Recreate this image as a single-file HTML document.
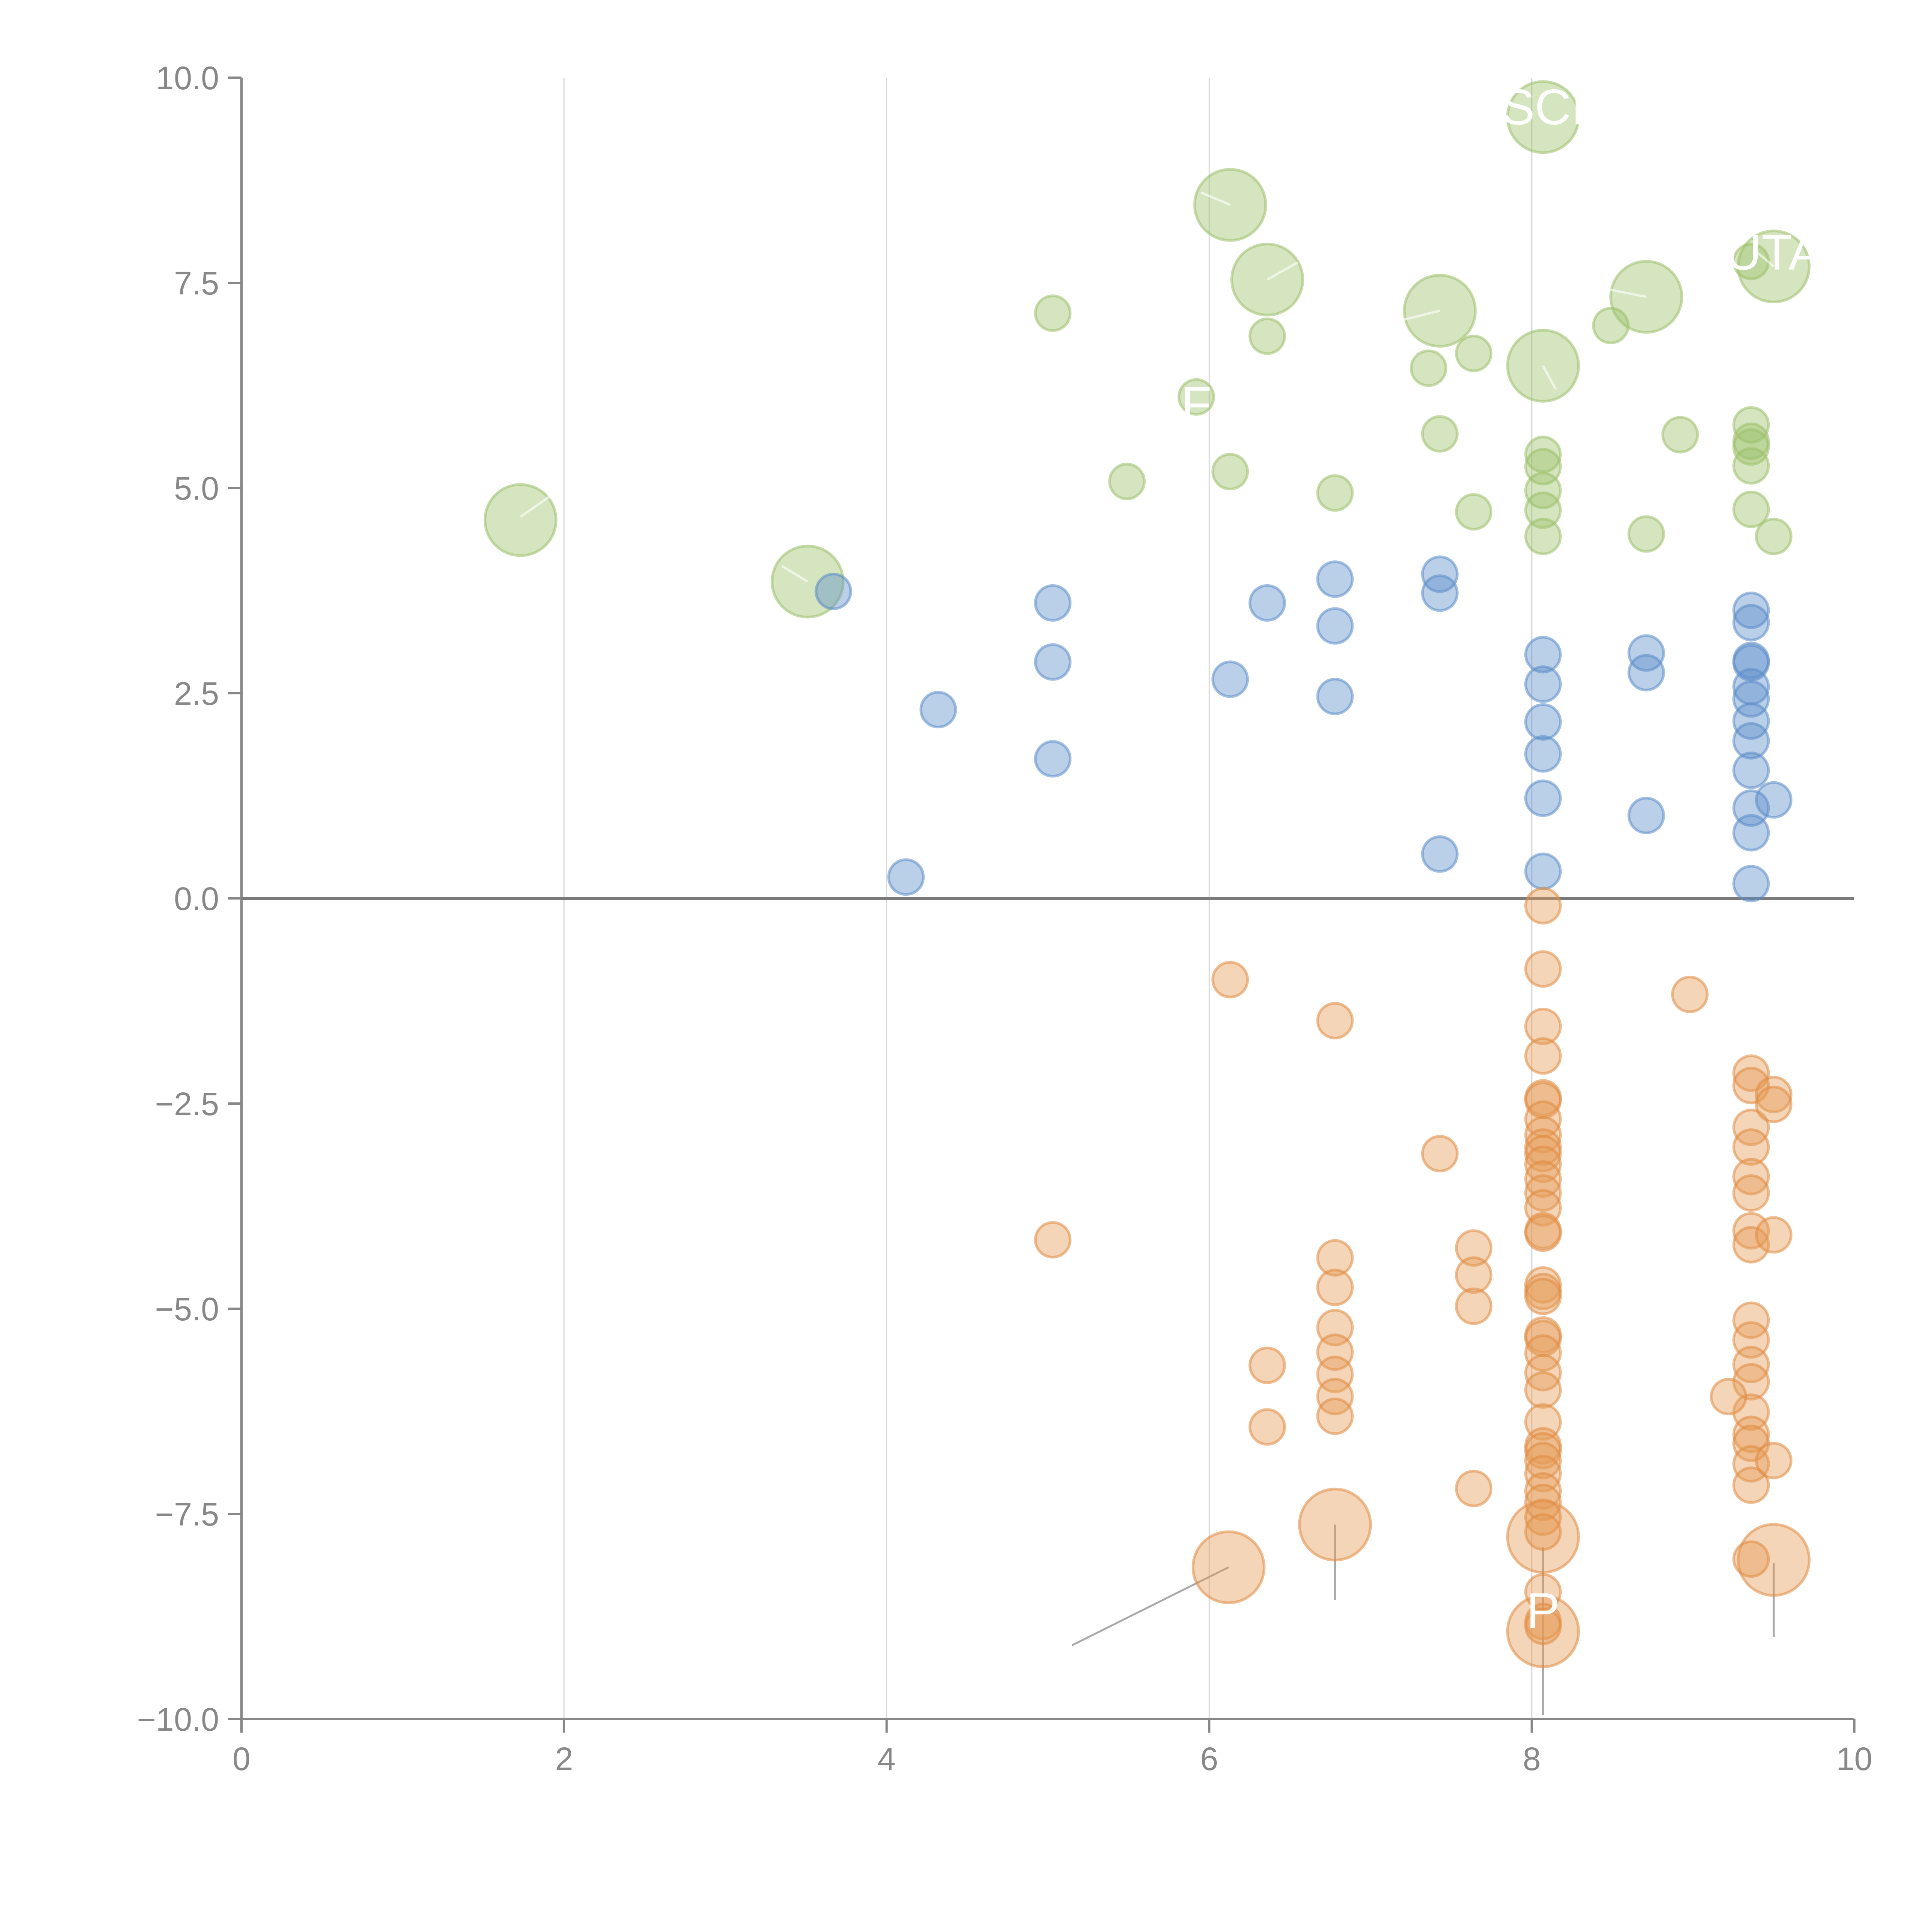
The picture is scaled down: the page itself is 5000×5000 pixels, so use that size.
<!DOCTYPE html>
<html><head><meta charset="utf-8"><style>html,body{margin:0;padding:0;background:#fff}svg{display:block}</style></head>
<body>
<svg id="chart" width="5000" height="5000" viewBox="0 0 5000 5000" xmlns="http://www.w3.org/2000/svg" font-family="Liberation Sans, Arial, sans-serif"></svg>
<script>
const xTicks=[0,2,4,6,8,10];
const yTicks=[10,7.5,5,2.5,0,-2.5,-5,-7.5,-10];
const yTickLabels=["10.0","7.5","5.0","2.5","0.0","\u22122.5","\u22125.0","\u22127.5","\u221210.0"];
const greenX=[1.73,3.51,6.13,6.36,7.43,8.07,8.07,8.71,9.50,5.03,6.36,5.92,6.13,5.49,6.78,7.36,7.64,7.43,7.64,8.07,8.07,8.07,8.07,8.07,8.49,8.71,8.92,9.36,9.36,9.36,9.36,9.36,9.50,9.36];
const greenY=[4.61,3.86,8.45,7.54,7.16,9.52,6.49,7.33,7.70,7.13,6.85,6.11,5.2,5.08,4.94,6.46,6.64,5.66,4.71,5.41,5.26,4.97,4.73,4.41,6.98,4.44,5.65,5.77,5.57,5.50,5.27,4.74,4.41,7.76];
const greenS=[2,2,2,2,2,2,2,2,2,1,1,1,1,1,1,1,1,1,1,1,1,1,1,1,1,1,1,1,1,1,1,1,1,1];
const blueX=[3.67,4.32,4.12,5.03,5.03,5.03,6.13,6.36,6.78,6.78,6.78,7.43,7.43,7.43,8.07,8.07,8.07,8.07,8.07,8.07,8.71,8.71,8.71,9.36,9.36,9.36,9.36,9.36,9.36,9.36,9.36,9.36,9.36,9.36,9.36,9.50];
const blueY=[3.74,2.30,0.26,3.60,2.88,1.70,2.67,3.60,3.89,3.32,2.46,3.95,3.72,0.54,2.97,2.61,2.15,1.76,1.22,0.33,2.99,2.75,1.01,3.51,3.36,2.90,2.87,2.58,2.43,2.16,1.92,1.56,1.10,0.80,0.18,1.20];
const orangeX=[6.12,6.78,8.07,8.07,9.50,6.13,6.78,8.98,5.03,7.43,6.36,6.36,6.78,6.78,6.78,6.78,6.78,6.78,6.78,7.64,7.64,7.64,7.64,
8.07,8.07,8.07,8.07,8.07,8.07,8.07,8.07,8.07,8.07,8.07,8.07,8.07,8.07,8.07,8.07,8.07,8.07,8.07,8.07,8.07,8.07,8.07,8.07,8.07,8.07,8.07,8.07,8.07,8.07,8.07,8.07,8.07,8.07,8.07,8.07,
9.36,9.36,9.36,9.36,9.36,9.36,9.36,9.36,9.36,9.36,9.36,9.36,9.36,9.36,9.36,9.36,9.36,9.36,9.50,9.50,9.50,9.50,9.22];
const orangeY=[-8.15,-7.63,-7.78,-8.93,-8.06,-0.99,-1.49,-1.17,-4.16,-3.11,-5.69,-6.44,-4.38,-4.74,-5.23,-5.53,-5.80,-6.07,-6.31,-4.26,-4.59,-4.97,-7.19,
-0.09,-0.86,-1.56,-1.92,-2.43,-2.46,-2.69,-2.88,-3.03,-3.11,-3.24,-3.42,-3.59,-3.77,-4.05,-4.08,-4.71,-4.79,-4.85,-5.32,-5.36,-5.54,-5.78,-5.99,-6.38,-6.67,-6.73,-6.85,-7.01,-7.22,-7.36,-7.54,-7.72,-8.45,-8.81,-8.87,
-2.13,-2.28,-2.79,-3.03,-3.39,-3.59,-4.05,-4.22,-5.14,-5.38,-5.68,-5.89,-6.26,-6.53,-6.64,-6.89,-7.15,-8.05,-2.39,-2.51,-4.10,-6.85,-6.07];
const orangeS=[2,2,2,2,2];
const labelText=["SCI","UTA","F","P"];
const labelX=[8.07,9.50,5.92,8.07];
const labelY=[9.62,7.85,6.0,-8.7];

const X0=625,X1=4799,Y0=201,Y1=4449;
const sx=v=>X0+(v-0)/(10-0)*(X1-X0);
const sy=v=>Y0+(10-v)/20*(Y1-Y0);
const svg=document.getElementById('chart');
const NS="http://www.w3.org/2000/svg";
function mk(tag,attrs){const e=document.createElementNS(NS,tag);for(const k in attrs)e.setAttribute(k,attrs[k]);svg.appendChild(e);return e;}

xTicks.forEach(t=>{if(t===0||t===10)return;
 const g=mk('line',{x1:sx(t),x2:sx(t),y1:Y0,y2:Y1,stroke:'#d8d8d8','stroke-width':3});
 
 });
const ya=mk('line',{x1:X0,x2:X0,y1:Y0,y2:Y1,stroke:'#888','stroke-width':6});


const xa=mk('line',{x1:X0,x2:X1,y1:Y1,y2:Y1,stroke:'#888','stroke-width':6});


yTicks.forEach((t,i)=>{
 const tk=mk('line',{x1:X0-35,x2:X0,y1:sy(t),y2:sy(t),stroke:'#888','stroke-width':6});
 
 
 const tx=mk('text',{x:X0-58,y:sy(t)+30,'text-anchor':'end','font-size':84,fill:'#888'});
 tx.textContent=yTickLabels[i];
 
 });
xTicks.forEach(t=>{
 const tk=mk('line',{x1:sx(t),x2:sx(t),y1:Y1,y2:Y1+35,stroke:'#888','stroke-width':6});
 
 
 const tx=mk('text',{x:sx(t),y:Y1+132,'text-anchor':'middle','font-size':84,fill:'#888'});
 tx.textContent=String(t);
 
 });
const zl=mk('line',{x1:X0,x2:X1,y1:sy(0),y2:sy(0),stroke:'#7a7a7a','stroke-width':8});



const leaders=[[6.12,-8.15,5.15,-9.1],[6.78,-7.63,6.78,-8.55],[8.07,-7.9,8.07,-9.95],[9.50,-8.1,9.50,-9.0]];
leaders.forEach(l=>{const ln=mk('line',{x1:sx(l[0]),y1:sy(l[1]),x2:sx(l[2]),y2:sy(l[3]),stroke:'#aaa','stroke-width':5});
 
 });

function series(xs,ys,ss,fill,stroke,name){
 xs.forEach((x,i)=>{const r=(ss[i]||1)===2?92:45;
  const c=mk('circle',{cx:sx(x),cy:sy(ys[i]),r:r,fill:fill,'fill-opacity':0.42,stroke:stroke,'stroke-opacity':0.55,'stroke-width':7});
  
  });
}
series(greenX,greenY,greenS,'#9cc069','#9cc069','green-bubble');
series(blueX,blueY,[],'#5b8cc9','#5b8cc9','blue-bubble');
series(orangeX,orangeY,orangeS,'#e59a56','#e08a40','orange-bubble');

const wLeaders=[[1.73,4.65,1.95,4.95],[3.51,3.86,3.35,4.05],[6.13,8.45,5.95,8.6],[6.36,7.54,6.55,7.75],[7.43,7.16,7.1,7.0],[8.07,6.49,8.15,6.2],[8.71,7.33,8.45,7.43],[9.50,7.70,9.38,7.9]];
wLeaders.forEach(l=>{const ln=mk('line',{x1:sx(l[0]),y1:sy(l[1]),x2:sx(l[2]),y2:sy(l[3]),stroke:'#fff','stroke-opacity':0.6,'stroke-width':6});
 
 });

labelText.forEach((t,i)=>{const tx=mk('text',{x:sx(labelX[i]),y:sy(labelY[i])+40,'text-anchor':'middle','font-size':130,fill:'#fff'});
 tx.textContent=t;
 
 });
</script>
</body></html>
